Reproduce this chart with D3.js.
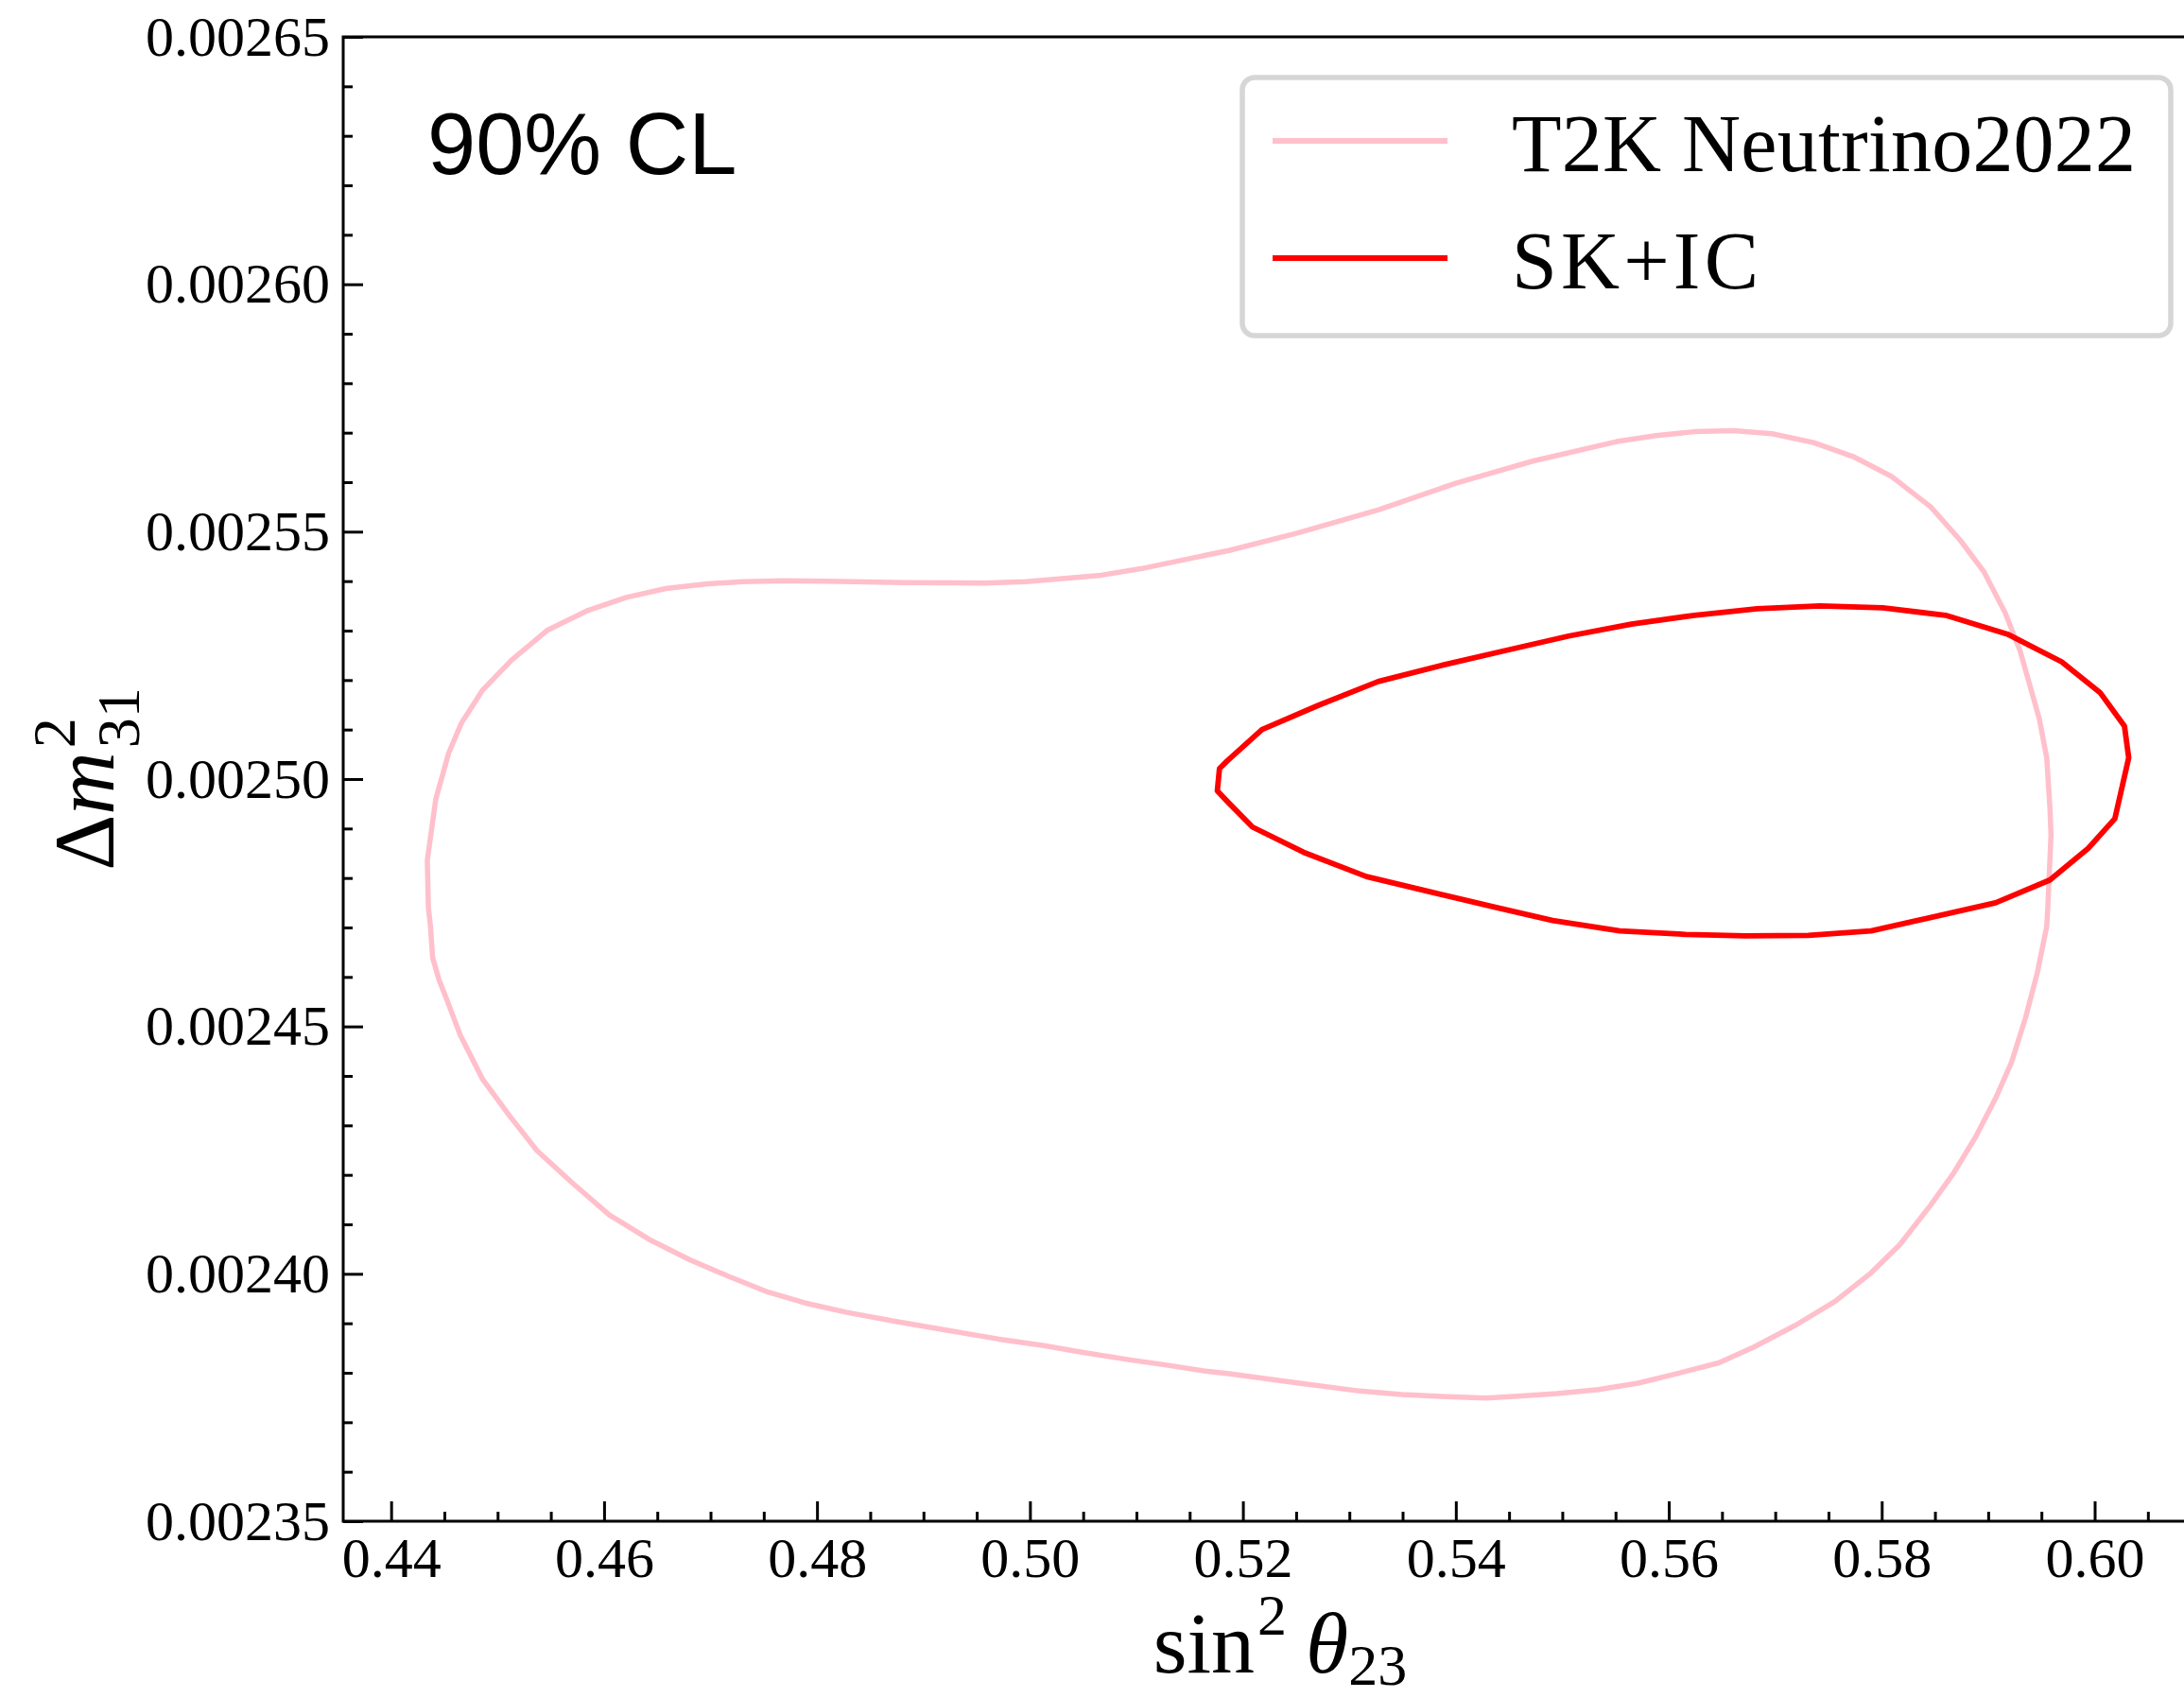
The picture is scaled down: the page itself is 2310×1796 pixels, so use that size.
<!DOCTYPE html>
<html>
  <head>
    <title>90% CL contours</title>
    <style>
      body { margin: 0; background: #fff; }
      svg { display: block; }
    </style>
  </head>
  <body>
    <svg id='chart'></svg>

    <script src="https://d3js.org/d3.v7.min.js" type="text/javascript"></script>
    <script>

// contour points: [sin^2 theta23, dm^2_31]
const t2k = [
  [0.4434, 0.0024836], [0.4442, 0.0024960], [0.4454, 0.0025052], [0.4466, 0.0025113],
  [0.4486, 0.0025180], [0.4513, 0.0025240], [0.4547, 0.0025301], [0.4585, 0.0025341],
  [0.4621, 0.0025367], [0.4658, 0.0025385], [0.4695, 0.0025394], [0.4730, 0.0025399],
  [0.4769, 0.0025401], [0.4809, 0.0025400], [0.4883, 0.0025397], [0.4956, 0.0025396],
  [0.4996, 0.0025399], [0.5067, 0.0025412], [0.5104, 0.0025425], [0.5187, 0.0025462],
  [0.5251, 0.0025497], [0.5327, 0.0025544], [0.5400, 0.0025598], [0.5473, 0.0025643],
  [0.5551, 0.0025682], [0.5588, 0.0025694], [0.5624, 0.0025702], [0.5661, 0.0025704],
  [0.5697, 0.0025698], [0.5736, 0.0025680], [0.5773, 0.0025652], [0.5809, 0.0025612],
  [0.5846, 0.0025550], [0.5874, 0.0025482], [0.5896, 0.0025419], [0.5916, 0.0025336],
  [0.5930, 0.0025259], [0.5948, 0.0025122], [0.5955, 0.0025043], [0.5958, 0.0024941],
  [0.5959, 0.0024887], [0.5956, 0.0024740], [0.5955, 0.0024702], [0.5946, 0.0024607],
  [0.5935, 0.0024517], [0.5922, 0.0024428], [0.5907, 0.0024355], [0.5888, 0.0024276],
  [0.5868, 0.0024205], [0.5846, 0.0024139], [0.5817, 0.0024059], [0.5790, 0.0024002],
  [0.5756, 0.0023944], [0.5719, 0.0023896], [0.5680, 0.0023852], [0.5647, 0.0023820],
  [0.5607, 0.0023798], [0.5571, 0.0023779], [0.5534, 0.0023766], [0.5495, 0.0023758],
  [0.5462, 0.0023753], [0.5428, 0.0023749], [0.5386, 0.0023752], [0.5349, 0.0023756],
  [0.5310, 0.0023763], [0.5243, 0.0023782], [0.5187, 0.0023798], [0.5163, 0.0023804],
  [0.5124, 0.0023817], [0.5094, 0.0023826], [0.5050, 0.0023841], [0.5013, 0.0023855],
  [0.4971, 0.0023868], [0.4922, 0.0023886], [0.4873, 0.0023904], [0.4828, 0.0023922],
  [0.4789, 0.0023941], [0.4754, 0.0023963], [0.4718, 0.0023994], [0.4681, 0.0024028],
  [0.4642, 0.0024070], [0.4605, 0.0024119], [0.4570, 0.0024184], [0.4537, 0.0024249],
  [0.4511, 0.0024320], [0.4486, 0.0024393], [0.4465, 0.0024482], [0.4452, 0.0024556],
  [0.4445, 0.0024594], [0.4439, 0.0024639], [0.4437, 0.0024702], [0.4435, 0.0024740]
];

const skic = [
  [0.5176, 0.0024976], [0.5178, 0.0025021], [0.5185, 0.0025036], [0.5218, 0.0025100],
  [0.5271, 0.0025149], [0.5327, 0.0025197], [0.5389, 0.0025231], [0.5445, 0.0025259],
  [0.5506, 0.0025289], [0.5565, 0.0025313], [0.5624, 0.0025331], [0.5683, 0.0025344],
  [0.5742, 0.0025350], [0.5801, 0.0025346], [0.5860, 0.0025331], [0.5918, 0.0025293],
  [0.5969, 0.0025237], [0.6005, 0.0025175], [0.6028, 0.0025107], [0.6032, 0.0025043],
  [0.6019, 0.0024920], [0.5994, 0.0024860], [0.5958, 0.0024796], [0.5907, 0.0024750],
  [0.5790, 0.0024693], [0.5731, 0.0024684], [0.5672, 0.0024683], [0.5616, 0.0024686],
  [0.5554, 0.0024693], [0.5491, 0.0024714], [0.5439, 0.0024740], [0.5378, 0.0024771],
  [0.5316, 0.0024803], [0.5257, 0.0024852], [0.5209, 0.0024903], [0.5187, 0.0024951]
];

const xTicks = [0.44, 0.46, 0.48, 0.50, 0.52, 0.54, 0.56, 0.58, 0.60];
const yTicks = [0.00235, 0.00240, 0.00245, 0.00250, 0.00255, 0.00260, 0.00265];
const xDomain = [0.4355, 0.6115];
const yDomain = [0.00235, 0.00265];
const seriesNames = ['T2K Neutrino2022', 'SK+IC'];
const seriesColors = ['pink', 'red'];

const serif = "'Liberation Serif', 'DejaVu Serif', serif";
const sans = "'Liberation Sans', Arial, sans-serif";

const margin = {top: 39, left: 363},
  width = 1982,
  height = 1570;

const svg = d3.select('#chart')
  .attr('width', 2310)
  .attr('height', 1796);

const chart = svg.append('g')
  .attr('transform', `translate(${margin.left},${margin.top})`);

const x = d3.scaleLinear().domain(xDomain).range([0, width]);
const y = d3.scaleLinear().domain(yDomain).range([height, 0]);

const xMinor = d3.range(87, 124).filter(i => i % 4 !== 0).map(i => i * 0.005)
  .filter(v => v >= xDomain[0] && v <= xDomain[1]);
const yMinor = d3.range(235, 266).filter(i => i % 5 !== 0).map(i => i * 1e-5);

chart.append('clipPath')
  .attr('id', 'plot-area')
  .append('rect')
  .attr('width', width)
  .attr('height', height);

// ticks point inward, minor ones shorter
chart.append('g')
  .attr('transform', `translate(0,${height})`)
  .call(d3.axisBottom(x).tickValues(xMinor).tickSize(-10).tickFormat(''));
chart.append('g')
  .attr('class', 'major')
  .attr('transform', `translate(0,${height})`)
  .call(d3.axisBottom(x).tickValues(xTicks).tickSize(-21).tickPadding(16).tickFormat(d3.format('.2f')));
chart.append('g')
  .call(d3.axisLeft(y).tickValues(yMinor).tickSize(-10).tickFormat(''));
chart.append('g')
  .attr('class', 'major')
  .call(d3.axisLeft(y).tickValues(yTicks).tickSize(-21).tickPadding(14).tickFormat(d3.format('.5f')));

chart.selectAll('.domain').remove();
chart.selectAll('.tick line').attr('stroke', '#000').attr('stroke-width', 3);
chart.selectAll('.major .tick text')
  .attr('font-family', serif)
  .attr('font-size', 60)
  .attr('fill', '#000');

const line = d3.line()
  .x(d => x(d[0]))
  .y(d => y(d[1]))
  .curve(d3.curveLinearClosed);

chart.append('g')
  .attr('clip-path', 'url(#plot-area)')
  .selectAll('path')
  .data([t2k, skic])
  .enter().append('path')
  .attr('d', line)
  .attr('fill', 'none')
  .attr('stroke', (d, i) => seriesColors[i])
  .attr('stroke-width', (d, i) => i === 0 ? 5.5 : 5.8)
  .attr('stroke-linejoin', 'round');

chart.append('rect')
  .attr('width', width)
  .attr('height', height)
  .attr('fill', 'none')
  .attr('stroke', '#000')
  .attr('stroke-width', 3);

chart.append('text')
  .attr('x', 89)
  .attr('y', 145)
  .attr('font-family', sans)
  .attr('font-size', 92)
  .text('90% CL');

// legend
const legend = svg.append('g');
legend.append('rect')
  .attr('x', 1314)
  .attr('y', 82)
  .attr('width', 982)
  .attr('height', 273)
  .attr('rx', 13)
  .attr('fill', '#fff')
  .attr('stroke', '#d6d6d6')
  .attr('stroke-width', 5.5);

const rows = legend.selectAll('.row')
  .data(seriesNames)
  .enter().append('g')
  .attr('class', 'row')
  .attr('transform', (d, i) => `translate(0,${i === 0 ? 149 : 273})`);
rows.append('line')
  .attr('x1', 1346)
  .attr('x2', 1531)
  .attr('stroke', (d, i) => seriesColors[i])
  .attr('stroke-width', 6);
rows.append('text')
  .attr('x', 1599)
  .attr('y', 32)
  .attr('font-family', serif)
  .attr('font-size', 86)
  .attr('textLength', (d, i) => i === 0 ? 660 : 261)
  .text(d => d);

// axis labels
const xlab = svg.append('text')
  .attr('x', margin.left + width / 2)
  .attr('y', 1769)
  .attr('text-anchor', 'middle')
  .attr('font-family', serif)
  .attr('font-size', 92);
xlab.append('tspan').text('sin');
xlab.append('tspan').attr('font-size', 62).attr('dx', 3).attr('dy', -40).text('2');
xlab.append('tspan').attr('font-style', 'italic').attr('dx', 20).attr('dy', 40).text('θ');
xlab.append('tspan').attr('font-size', 62).attr('dy', 13).text('23');

const ylab = svg.append('text')
  .attr('transform', `translate(120,${margin.top + height / 2}) rotate(-90)`)
  .attr('text-anchor', 'middle')
  .attr('font-family', serif)
  .attr('font-size', 92);
ylab.append('tspan').text('Δ');
ylab.append('tspan').attr('font-style', 'italic').text('m');
ylab.append('tspan').attr('font-size', 64).attr('dx', 4).attr('dy', -41).text('2');
ylab.append('tspan').attr('font-size', 64).attr('dx', -32).attr('dy', 68).text('31');

</script>
  </body>
</html>
